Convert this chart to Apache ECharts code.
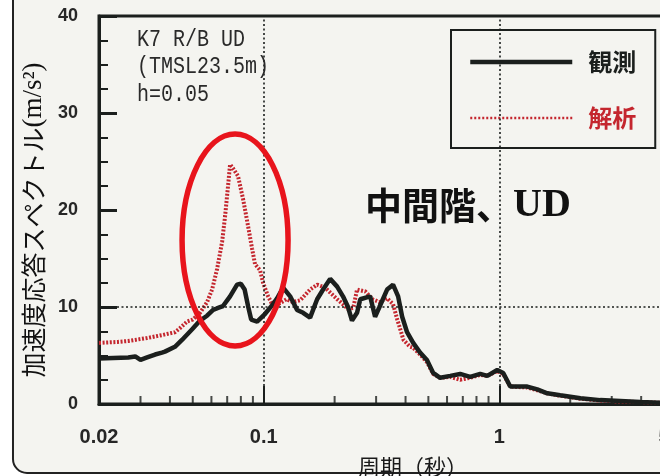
<!DOCTYPE html>
<html>
<head>
<meta charset="utf-8">
<script src="https://cdn.jsdelivr.net/npm/echarts@6/dist/echarts.min.js"></script>
<style>
html,body{margin:0;padding:0;background:#ffffff;}
#c{width:660px;height:476px;}
</style>
</head>
<body>
<div id="c"></div>
<script>
// ---- data (period in s, acceleration response in m/s^2) ----
const seriesNames = ['観測', '解析'];

const observedPeriod = [0.0200,0.0230,0.0266,0.0285,0.0300,0.0320,0.0346,0.0370,0.0381,0.0420,0.0450,0.0497,0.0537,0.0575,0.0610,0.0640,0.0672,0.0720,0.0771,0.0800,0.0830,0.0860,0.0885,0.0938,0.1014,0.1096,0.1140,0.1209,0.1295,0.1386,0.1470,0.1574,0.1686,0.1787,0.1914,0.205,0.217,0.228,0.237,0.249,0.257,0.283,0.297,0.310,0.334,0.354,0.372,0.387,0.406,0.431,0.461,0.494,0.524,0.561,0.619,0.682,0.752,0.830,0.889,0.980,1.039,1.113,1.314,1.449,1.598,1.814,2.21,2.68,3.26,3.97,5.0];
const observedAccel  = [4.7,4.75,4.8,4.9,4.55,4.8,5.1,5.3,5.4,5.9,6.6,7.7,8.6,9.1,9.7,9.9,10.1,11.1,12.3,12.4,11.8,10.0,8.7,8.5,9.3,10.3,10.9,12.0,11.1,9.7,9.4,8.9,10.8,11.8,12.9,12.1,11.1,10.0,8.6,9.4,10.8,11.1,9.0,10.0,11.8,12.3,11.1,9.0,7.4,6.3,5.3,4.5,3.2,2.7,2.9,3.1,2.8,3.1,2.9,3.5,3.2,1.8,1.8,1.5,1.1,0.9,0.6,0.4,0.3,0.2,0.1];

const analysisPeriod = [0.0200,0.0240,0.0266,0.0320,0.0370,0.0420,0.0445,0.0473,0.0500,0.0537,0.0575,0.0604,0.0634,0.0666,0.0686,0.0706,0.0720,0.0741,0.0778,0.0818,0.0859,0.0893,0.0919,0.0965,0.0994,0.1044,0.1096,0.1174,0.1250,0.1330,0.1430,0.1574,0.1686,0.1823,0.1914,0.205,0.212,0.228,0.240,0.249,0.270,0.290,0.310,0.334,0.354,0.369,0.380,0.392,0.418,0.431,0.461,0.494,0.524,0.561,0.619,0.682,0.752,0.830,0.889,0.980,1.039,1.113,1.314,1.449,1.598,1.814,2.21,2.68,3.26,3.97,5.0];
const analysisAccel  = [6.3,6.4,6.5,6.8,7.1,7.4,7.9,8.5,8.7,9.4,10.5,11.8,13.9,16.7,19.4,22.5,24.7,24.3,23.5,21.1,18.3,16.0,14.4,13.8,12.5,11.1,10.1,10.4,10.8,10.5,10.7,11.8,12.3,12.0,11.5,10.8,10.5,9.8,9.9,11.8,11.6,10.8,10.5,10.9,10.3,8.7,7.7,6.6,5.9,5.8,5.1,4.3,3.1,2.7,2.8,2.5,2.7,3.0,2.9,3.4,3.1,1.8,1.7,1.4,1.1,0.85,0.55,0.35,0.25,0.2,0.1];

// axes
const xRange = [0.02, 5];
const xMinorTicks = [0.03,0.04,0.05,0.06,0.07,0.08,0.09,0.2,0.3,0.4,0.5,0.6,0.7,0.8,0.9,2,3,4];
const yRange = [0, 40];
const yStep = 10;
const gridX = [0.1, 1];
const gridY = [10];

// annotations
const noteLines = ['K7 R/B UD', '(TMSL23.5m)', 'h=0.05'];
const titleCJK = '中間階、';
const titleLatin = 'UD';
const ellipseCenter = [0.0756, 16.9];

const ink = '#1b1f1d';
const red = '#c4262e';
const paper = '#f4f4f0';

const zip = (a, b) => a.map((v, i) => [v, b[i]]);

const chart = echarts.init(document.getElementById('c'), null, {renderer: 'canvas', width: 660, height: 476});

const option = {
  backgroundColor: '#ffffff',
  animation: false,
  grid: {left: 99, top: 16, width: 565, height: 388, containLabel: false, outerBoundsMode: 'none',
    show: true, borderColor: ink, borderWidth: 3, backgroundColor: 'transparent'},
  legend: {
    orient: 'vertical', left: 451, top: 30,
    padding: [20, 19, 18, 17], itemGap: 32, itemWidth: 102, itemHeight: 24,
    borderColor: ink, borderWidth: 2, backgroundColor: paper, selectedMode: false,
    itemStyle: {opacity: 0},
    textStyle: {fontFamily: 'Noto Sans CJK JP', fontWeight: 'bold', fontSize: 24, lineHeight: 24, padding: [0, 0, 0, 11]},
    data: [
      {name: seriesNames[0], textStyle: {color: ink}, lineStyle: {color: ink, width: 4.5, type: 'solid'}},
      {name: seriesNames[1], textStyle: {color: red}, lineStyle: {color: red, width: 2.5, type: [2, 2]}}
    ]
  },
  xAxis: {
    type: 'log', logBase: 10, min: xRange[0], max: xRange[1],
    name: '周期（秒）', nameLocation: 'middle', nameGap: 52,
    nameTextStyle: {fontFamily: 'Noto Sans CJK JP', fontSize: 22, color: '#1a1a1a', padding: [0, 0, 0, 63]},
    axisLine: {lineStyle: {color: ink, width: 3}},
    axisTick: {inside: true, length: 18, lineStyle: {color: ink, width: 2}},
    axisLabel: {margin: 23, fontFamily: 'Liberation Sans', fontWeight: 'bold', fontSize: 20, color: '#262626',
      formatter: v => String(+Number(v).toPrecision(3))},
    splitLine: {show: false}
  },
  yAxis: {
    type: 'value', min: yRange[0], max: yRange[1], interval: yStep,
    name: '{a|加速度応答スペクトル}{b|(m/s²)}', nameLocation: 'middle', nameRotate: 90, nameGap: 47,
    nameTextStyle: {padding: [0, 20, 0, 0], rich: {
      a: {fontFamily: 'Noto Sans CJK JP', fontSize: 25, color: '#111'},
      b: {fontFamily: 'Liberation Serif', fontSize: 27, color: '#111'}
    }},
    axisLine: {lineStyle: {color: ink, width: 3}},
    axisTick: {inside: true, length: 18, lineStyle: {color: ink, width: 3}},
    minorTick: {show: true, splitNumber: 4, length: 9, lineStyle: {color: ink, width: 2}},
    axisLabel: {margin: 21, fontFamily: 'Liberation Sans', fontWeight: 'bold', fontSize: 18, color: '#262626'},
    splitLine: {show: false}
  },
  series: [
    {
      name: seriesNames[1], type: 'line', data: zip(analysisPeriod, analysisAccel),
      symbol: 'none', lineStyle: {color: red, width: 4, type: [2, 1.6]}, itemStyle: {color: red}, z: 3
    },
    {
      name: seriesNames[0], type: 'line', data: zip(observedPeriod, observedAccel),
      symbol: 'none', lineStyle: {color: ink, width: 4.5}, itemStyle: {color: ink}, z: 4,
      markLine: {
        silent: true, symbol: 'none', label: {show: false}, animation: false,
        lineStyle: {color: ink, type: [2, 2.5], width: 1.6},
        data: [...gridX.map(v => ({xAxis: v})), ...gridY.map(v => ({yAxis: v}))]
      }
    },
    {
      name: 'minorTicks', type: 'scatter', data: xMinorTicks.map(v => [v, 0]),
      symbol: 'rect', symbolSize: [2, 8], symbolOffset: [0, -4], clip: false, silent: true,
      itemStyle: {color: ink}, z: 5
    }
  ]
};

chart.setOption(option);

const c = chart.convertToPixel({gridIndex: 0}, ellipseCenter);
chart.setOption({
  graphic: [
    {type: 'rect', z: -100, shape: {x: 13, y: -40, width: 700, height: 513, r: 14},
      style: {fill: paper, stroke: '#222', lineWidth: 2}},
    {type: 'text', x: 137, y: 26, scaleY: 1.15, z: 10,
      style: {text: noteLines.join('\n'), font: '20px "Liberation Mono"', fill: '#2a2a2a', lineHeight: 24, verticalAlign: 'top'}},
    {type: 'text', x: 365, y: 206, z: 10,
      style: {text: '{a|' + titleCJK + '}{b|' + titleLatin + '}', verticalAlign: 'middle',
        rich: {
          a: {fontFamily: 'Noto Sans CJK JP', fontWeight: 'bold', fontSize: 37, fill: '#111'},
          b: {fontFamily: 'Liberation Serif', fontWeight: 'bold', fontSize: 40, fill: '#111'}
        }}},
    {type: 'ellipse', z: 50, shape: {cx: c[0], cy: c[1], rx: 53, ry: 106},
      style: {fill: 'none', stroke: '#e8141c', lineWidth: 5.5}}
  ]
});
</script>
</body>
</html>
